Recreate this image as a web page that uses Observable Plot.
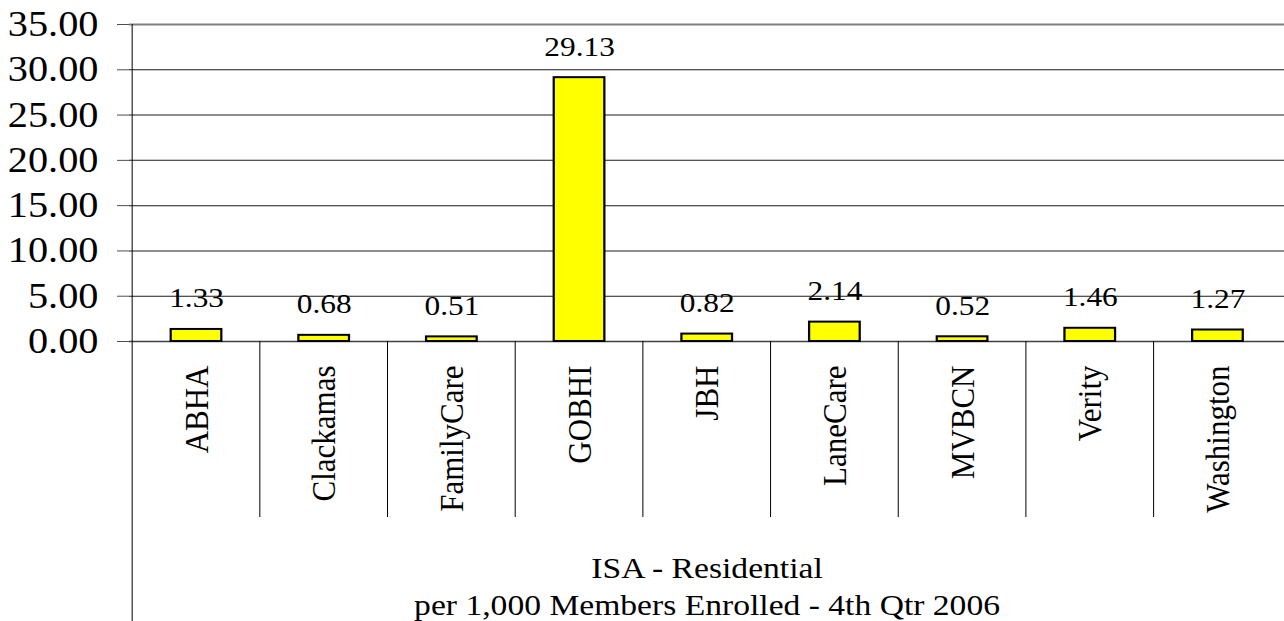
<!DOCTYPE html>
<html>
<head>
<meta charset="utf-8">
<script src="https://cdn.jsdelivr.net/npm/d3@7"></script>
<script src="https://cdn.jsdelivr.net/npm/@observablehq/plot@0.6"></script>
<style>
  html, body { margin: 0; padding: 0; background: #fff; overflow: hidden; }
  #chart svg { display: block; }
  #chart svg, #chart svg text { font-family: "Liberation Serif", "Times New Roman", Times, serif !important; }
</style>
</head>
<body>
<div id="chart"></div>
<script>
const categories = ["ABHA", "Clackamas", "FamilyCare", "GOBHI", "JBH", "LaneCare", "MVBCN", "Verity", "Washington"];
const values = [1.33, 0.68, 0.51, 29.13, 0.82, 2.14, 0.52, 1.46, 1.27];
const yTicks = [0, 5, 10, 15, 20, 25, 30, 35];
const axisTitle = "ISA - Residential\nper 1,000 Members Enrolled - 4th Qtr 2006";

const data = categories.map((c, i) => ({category: c, value: values[i]}));

// The original chart is stretched horizontally (~1.12x); lay out in a narrower
// coordinate system and stretch the SVG to the full page width.
const OUT_W = 1284, H = 621, SX = 1.12;
const W = OUT_W / SX;
const mL = 129 / SX, mR = 0, mT = 24, mB = 280;
const font = "Liberation Serif, Times New Roman, serif";

function separators(index, scales, values, dimensions) {
  const x = scales.x, y = scales.y;
  const g = d3.create("svg:g");
  const y0 = y(0);
  categories.forEach((c, i) => {
    if (i === 0) return;
    const xx = x(c);
    g.append("line").attr("x1", xx).attr("x2", xx).attr("y1", y0).attr("y2", y0 + 176)
      .attr("stroke", "#000").attr("stroke-width", 1).attr("vector-effect", "non-scaling-stroke");
  });
  const xl = x(categories[0]);
  g.append("line").attr("x1", xl).attr("x2", xl).attr("y1", dimensions.marginTop).attr("y2", dimensions.height)
    .attr("stroke", "#000").attr("stroke-width", 1).attr("vector-effect", "non-scaling-stroke");
  return g.node();
}

const chart = Plot.plot({
  width: W,
  height: H,
  marginLeft: mL,
  marginRight: mR,
  marginTop: mT,
  marginBottom: mB,
  style: {fontFamily: font, background: "#fff", color: "#000", overflow: "visible"},
  x: {domain: categories, padding: 0, axis: null},
  y: {domain: [0, 35], ticks: yTicks},
  marks: [
    Plot.gridY(yTicks.filter(d => d > 0 && d < 35), {stroke: "#000", strokeOpacity: 0.9, strokeWidth: 1}),
    Plot.ruleY([35], {stroke: "#808080", strokeWidth: 2}),
    Plot.axisY(yTicks, {
      tickFormat: d => d.toFixed(2),
      tickSize: 12 / SX,
      tickPadding: 17,
      fontSize: 36,
      fontFamily: font,
      stroke: "#000",
      strokeOpacity: 0.7,
      fill: "#000",
      label: null
    }),
    Plot.barY(data, {
      x: "category",
      y: "value",
      fill: "#ffff00",
      stroke: "#000",
      strokeWidth: 2,
      insetLeft: 34.4,
      insetRight: 34.4
    }),
    Plot.ruleY([0], {stroke: "#000", strokeOpacity: 0.75, strokeWidth: 1.5}),
    separators,
    Plot.text(data, {
      x: "category",
      y: "value",
      text: d => d.value.toFixed(2),
      dy: -31,
      lineAnchor: "middle",
      fontSize: 28,
      fontFamily: font,
      fill: "#000"
    }),
    Plot.text(categories, {
      x: d => d,
      y: () => 0,
      text: d => d,
      rotate: -90,
      textAnchor: "end",
      lineAnchor: "middle",
      dy: 24,
      fontSize: 31,
      fontFamily: font,
      fill: "#000"
    }),
    Plot.text([axisTitle], {
      frameAnchor: "bottom",
      text: d => d,
      lineAnchor: "middle",
      lineHeight: 1.25,
      dy: 243,
      fontSize: 30,
      fontFamily: font,
      fill: "#000"
    })
  ]
});

chart.setAttribute("width", OUT_W);
chart.setAttribute("height", H);
chart.setAttribute("preserveAspectRatio", "none");
chart.style.width = OUT_W + "px";
chart.style.height = H + "px";
chart.style.maxWidth = "none";
document.getElementById("chart").appendChild(chart);
</script>
</body>
</html>
